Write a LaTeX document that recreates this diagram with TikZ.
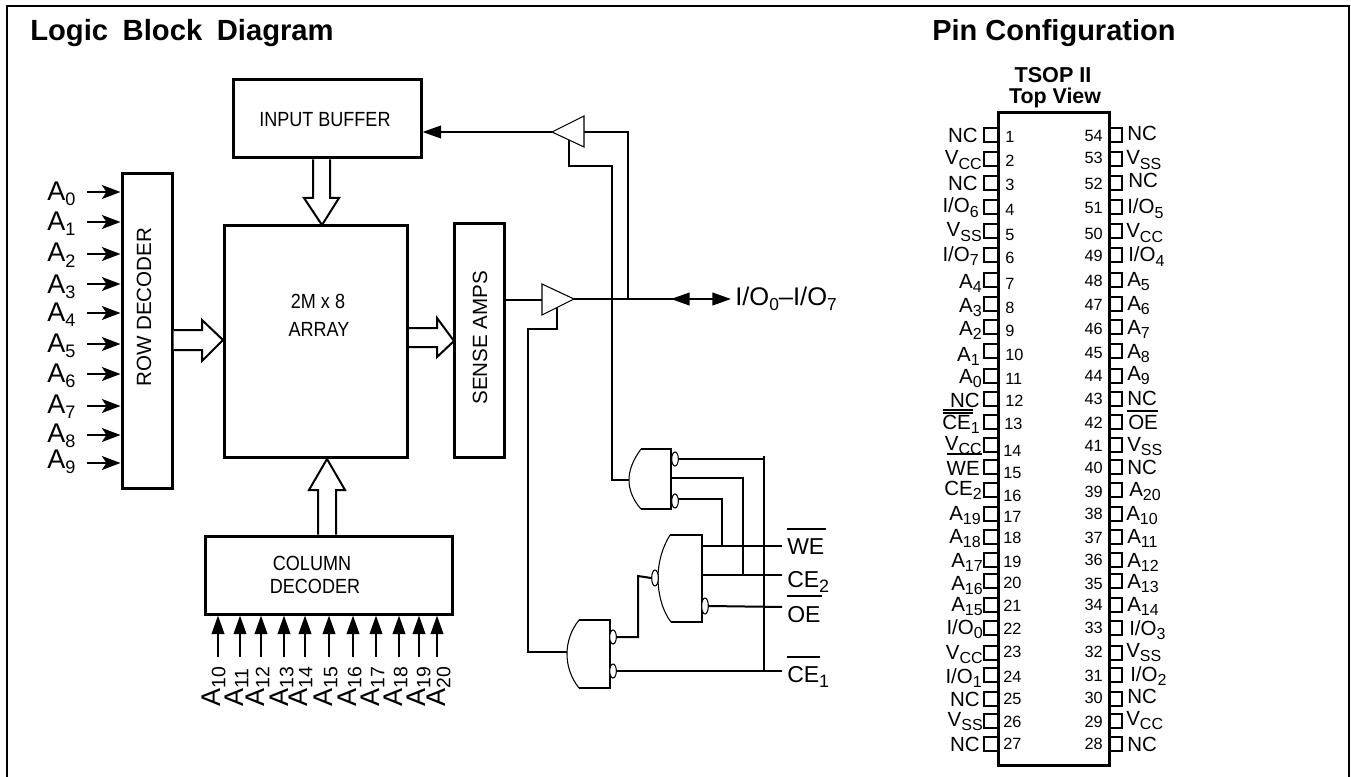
\documentclass[tikz,border=0pt]{standalone}
\usepackage{fontspec}
\setmainfont{Liberation Sans}
\newfontfamily\cond[FakeStretch=0.88]{Liberation Sans}
\usetikzlibrary{arrows.meta,shapes.geometric}
\makeatletter
\newcommand\fs[1]{\fontsize{\fpeval{#1*0.75}}{\fpeval{#1*0.9}}\selectfont}
\def\sbr{0.72}
\def\sbd{0.22}
\newcommand\Sb[1]{\raisebox{-\sbd em}{\fontsize{\fpeval{\sbr*\f@size}}{0}\selectfont #1}}
\makeatother
\def\IO{I/O}
\newcommand\Block[6][]{\node[blockbox,#1,minimum width=\fpeval{0.75*(#5-#3)}pt,minimum height=\fpeval{0.75*(#6-#4)}pt] (#2) at ({(#3+#5)/2},{(#4+#6)/2}) {};}
\tikzset{
  x=0.75pt,y=-0.75pt,
  blockbox/.style={draw,line width=2.25pt,inner sep=0pt,fill=white},
  wire/.style={line width=1.5pt,line join=miter},
  hollow/.style={line width=1.5pt,line join=miter,fill=white},
  thinline/.style={line width=0.8pt,line join=miter},
  bub/.style={ellipse,draw,line width=0.8pt,fill=white,inner sep=0pt,minimum width=5pt,minimum height=10.5pt},
  tipb/.style={-{Triangle[length=14pt,width=9.5pt]}},
  tipr/.style={-{Stealth[length=14pt,width=10.5pt,inset=3.5pt]}},
  txt/.style={inner sep=0pt,anchor=base west},
  txtr/.style={inner sep=0pt,anchor=base east},
  txtc/.style={inner sep=0pt,anchor=base},
  pinbox/.style={draw,line width=1.5pt},
  bigA/.style={txt,font=\fs{27}\def\sbr{0.67}\def\sbd{0.22}},
  pinl/.style={font=\fs{20.5}\def\sbr{0.78}\def\sbd{0.2}},
  ctl/.style={txt,font=\fs{23}\def\sbr{0.78}\def\sbd{0.22}},
  over/.style={line width=1.5pt},
}
\begin{document}
\begin{tikzpicture}
\useasboundingbox (0,0) rectangle (1351,777);
% frame
\draw[line width=1.6pt] (7,778) -- (7,6) -- (1349,6) -- (1349,778);
% titles
\node[txt,font=\fs{29.2}\bfseries] (title1) at (30,41) {Logic\hspace{0.5em}Block\hspace{0.5em}Diagram};
\node[txt,font=\fs{29}\bfseries] (title2) at (932,41) {Pin Configuration};
\node[txtc,font=\fs{21.6}\bfseries] (tsop) at (1053,83) {TSOP II};
\node[txtc,font=\fs{21.4}\bfseries] (topv) at (1055,104) {Top View};
% blocks
\Block{inbuf}{233}{80}{421}{158}
\Block{array}{224.5}{226}{407.5}{457}
\Block{amps}{454}{224}{504}{457}
\Block{rowdec}{122}{174}{172}{488}
\Block{coldec}{205}{536}{452}{614}
\node[txt,font=\cond\fs{20.5}] (tib) at (259,127) {INPUT BUFFER};
\node[txtc,font=\cond\fs{20.5}] (tar1) at (318,308) {2M x 8};
\node[txtc,font=\cond\fs{20.5}] (tar2) at (319,336) {ARRAY};
\node[txt,rotate=90,font=\fs{20.6}] (trd) at (151,387) {ROW DECODER};
\node[txt,rotate=90,font=\fs{20.6}] (tsa) at (487,405) {SENSE AMPS};
\node[txtc,font=\cond\fs{20.5}] (tcd1) at (312,570) {COLUMN};
\node[txtc,font=\cond\fs{20.5}] (tcd2) at (315,593) {DECODER};
% hollow arrows
\draw[hollow] (313,0 |- inbuf.south) -- (313,198) -- (304,198) -- (322,225) -- (339,198) -- (330,198) -- (330,0 |- inbuf.south);
\draw[hollow] (0,330 -| rowdec.east) -- (202,330) -- (202,320) -- (223,340) -- (202,361) -- (202,350) -- (0,350 -| rowdec.east);
\draw[hollow] (0,328 -| array.east) -- (437,328) -- (437,318) -- (454,341) -- (437,357) -- (437,347) -- (0,347 -| array.east);
\draw[hollow] (318,0 |- coldec.north) -- (318,490) -- (309,490) -- (327,459) -- (345,490) -- (336,490) -- (336,0 |- coldec.north);
% row address inputs
\foreach \n/\ty/\ay in {0/200/192,1/230/222,2/262/254,3/293/284,4/321/313,5/352/344,6/382/374,7/413/406,8/442/435,9/468/463}{
  \node[bigA] (ra\n) at (47,\ty) {A\Sb{\n}};
  \coordinate (rs\n) at (87,\ay);
  \draw[wire,tipr] (rs\n) -- (rs\n -| rowdec.west);
}
% column address inputs
\foreach \n/\ax/\bx in {10/218/220,11/240/243,12/261/264,13/284/288,14/305/307,15/329/332,16/353/356,17/376/379,18/399/402,19/419/425,20/437/445}{
  \coordinate (cs\n) at (\ax,657);
  \draw[wire,tipb] (cs\n) -- (cs\n |- coldec.south);
  \node[txt,rotate=90,font=\fs{27}\def\sbr{0.72}\def\sbd{0.2}] (ca\n) at (\bx,707) {A\Sb{\n}};
}
% tri-state buffers
\coordinate (bu1in) at (584,132);
\coordinate (bu1out) at (552,132);
\coordinate (bu2in) at (542,300);
\coordinate (bu2out) at (574,299);
\coordinate (ioend) at (731,299);
\coordinate (iojoin) at (628,299);
% top buffer wires
\draw[wire,tipb] (bu1out) -- (bu1out -| inbuf.east);
\draw[wire] (bu1in) -- (628,132) -- (iojoin);
\draw[wire] (569,138) -- (569,166) -- (612,166) -- (612,480) -- (629,480);
% bottom buffer wires
\draw[wire] (bu2in -| amps.east) -- (bu2in);
\draw[wire,tipb] (bu2out) -- (ioend);
\draw[wire,tipb] (690,299) -- (671,299);
\draw[wire] (557,307) -- (557,329) -- (528,329) -- (528,652) -- (567,652);
\draw[thinline,fill=white] (bu1out) -- (584,116) -- (584,147) -- cycle;
\draw[thinline,fill=white] (bu2out) -- (542,284) -- (542,315) -- cycle;
% control wires
\coordinate (weout) at (782,546);
\coordinate (ce2out) at (782,575);
\coordinate (oeout) at (782,607);
\coordinate (ce1out) at (782,671);
\draw[wire] (702,546) -- (weout);
\draw[wire] (702,575) -- (ce2out);
\draw[wire] (764,456) -- (764,671);
\draw[wire] (671,478) -- (743,478) -- (743,575);
\draw[wire] (678,499) -- (722,499) -- (722,546);
% gate 1
\draw[thinline,fill=white] (641,449) .. controls (633,460) and (629,470) .. (629,480) .. controls (629,490) and (633,500) .. (641,509);
\draw[wire] (641,449) -- (671,449) -- (671,509) -- (641,509);
\node[bub] (b1) at (675,459) {};
\node[bub] (b2) at (675,501) {};
\draw[wire] (b1.east) -- (764,459);
% gate 2
\draw[thinline] (670,535) .. controls (662,548) and (658,563) .. (658,578) .. controls (658,595) and (663,612) .. (671,622);
\draw[wire] (670,535) -- (702,535) -- (702,622) -- (671,622);
\node[bub,minimum height=12pt] (b3) at (655,578) {};
\node[bub,minimum height=12pt] (b4) at (705,606) {};
\draw[wire] (b4.east) -- (oeout);
% gate 3
\draw[thinline] (579,620) .. controls (571,630) and (567,642) .. (567,654) .. controls (567,666) and (571,678) .. (579,688);
\draw[wire] (579,620) -- (610,620) -- (610,688) -- (579,688);
\node[bub] (b5) at (613,637) {};
\node[bub] (b6) at (613,671) {};
\draw[wire] (b5.east) -- (638,637) -- (638,576) -- (b3.west);
\draw[wire] (b6.east) -- (ce1out);
% signal labels
\node[txt,font=\fs{25.5}\def\sbr{0.68}\def\sbd{0.22}] (tio) at (735,305) {\IO\Sb{0}–\IO\Sb{7}};
\node[ctl] (twe) at (787,554) {WE};
\node[ctl] (tce2) at (787,587) {CE\Sb{2}};
\node[ctl] (toe) at (787,622) {OE};
\node[ctl] (tce1) at (787,682) {CE\Sb{1}};
\draw[over] (787,529) -- (826,529);
\draw[over] (787,596) -- (822,596);
\draw[over] (787,657) -- (820,657);
% chip
\node[blockbox,fill=none,minimum width=83.25pt,minimum height=489pt] (chip) at (1053.5,439) {};
\foreach \y in {128,152,176,200,224,248,273,297,320,344,369,392,415,438,460,483,507,530,553,574,598,621,646,668,692,714,737}{
  \draw[pinbox] (998,\y) -- (984,\y) -- (984,\y+14) -- (998,\y+14);
  \draw[pinbox] (1109,\y) -- (1122,\y) -- (1122,\y+14) -- (1109,\y+14);
}
% left pin labels
\foreach \n/\x/\y/\t in {1/978/143/NC,2/982/165/{V\Sb{CC}},3/978/191/NC,4/979/213/{\IO\Sb{6}},5/982/237/{V\Sb{SS}},6/979/261/{\IO\Sb{7}},7/982/288/{A\Sb{4}},8/982/312/{A\Sb{3}},9/982/335/{A\Sb{2}},10/980/361/{A\Sb{1}},11/982/383/{A\Sb{0}},12/980/407/NC,13/980/429/{CE\Sb{1}},14/982/450/{V\Sb{CC}},15/980/475/WE,16/982/495/{CE\Sb{2}},17/981/520/{A\Sb{19}},18/981/543/{A\Sb{18}},19/983/567/{A\Sb{17}},20/983/590/{A\Sb{16}},21/983/611/{A\Sb{15}},22/983/634/{\IO\Sb{0}},23/983/659/{V\Sb{CC}},24/982/683/{\IO\Sb{1}},25/980/706/NC,26/983/726/{V\Sb{SS}},27/980/751/NC}{
  \node[txtr,pinl] (pl\n) at (\x,\y) {\t};
}
% right pin labels
\foreach \n/\x/\y/\t in {54/1127/141/NC,53/1126/165/{V\Sb{SS}},52/1128/188/NC,51/1127/214/{\IO\Sb{5}},50/1126/238/{V\Sb{CC}},49/1128/262/{\IO\Sb{4}},48/1127/286/{A\Sb{5}},47/1127/310/{A\Sb{6}},46/1127/334/{A\Sb{7}},45/1127/358/{A\Sb{8}},44/1127/380/{A\Sb{9}},43/1127/405/NC,42/1128/429/OE,41/1127/451/{V\Sb{SS}},40/1127/474/NC,39/1129/496/{A\Sb{20}},38/1126/520/{A\Sb{10}},37/1127/543/{A\Sb{11}},36/1127/567/{A\Sb{12}},35/1127/588/{A\Sb{13}},34/1127/611/{A\Sb{14}},33/1129/635/{\IO\Sb{3}},32/1126/657/{V\Sb{SS}},31/1130/681/{\IO\Sb{2}},30/1127/703/NC,29/1126/725/{V\Sb{CC}},28/1127/751/NC}{
  \node[txt,pinl] (pr\n) at (\x,\y) {\t};
}
% pin overbars
\draw[line width=0.9pt] (943,410) -- (973,410);
\draw[line width=0.9pt] (943,413) -- (973,413);
\draw[over] (947,454) -- (982,454);
\draw[over] (1127,411) -- (1158,411);
% pin numbers left
\foreach \n/\x/\y in {1/1005/143,2/1005/167,3/1005/191,4/1005/215,5/1005/240,6/1005/263,7/1005/289,8/1005/313,9/1005/336,10/1005/360,11/1005/384,12/1005/406,13/1004/429,14/1003/456,15/1003/478,16/1003/501,17/1003/522,18/1003/543,19/1003/567,20/1003/588,21/1003/611,22/1003/634,23/1003/657,24/1003/682,25/1003/704,26/1003/727,27/1003/749}{
  \node[txt,font=\fs{16.3}] (nl\n) at (\x,\y) {\n};
}
% pin numbers right
\foreach \n/\y in {54/142,53/164,52/190,51/214,50/239,49/262,48/286,47/310,46/334,45/358,44/381,43/404,42/428,41/451,40/473,39/497,38/519,37/543,36/565,35/589,34/610,33/633,32/657,31/681,30/703,29/727,28/749}{
  \node[txtr,font=\fs{16.3}] (nr\n) at (1103,\y) {\n};
}
\end{tikzpicture}
\end{document}
